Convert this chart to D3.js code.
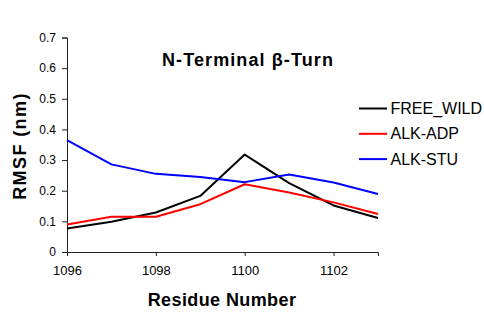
<!DOCTYPE html>
<html>
<head>
<meta charset="utf-8">
<script src="https://cdn.jsdelivr.net/npm/d3@7"></script>
<style>
  body { margin: 0; background: #fff; }
  text { font-family: "Liberation Sans", Arial, sans-serif; }
</style>
</head>
<body>
<div id="chart"></div>
<script>
const residues = [1096, 1097, 1098, 1099, 1100, 1101, 1102, 1103];
const seriesNames = ["FREE_WILD", "ALK-ADP", "ALK-STU"];
const seriesColors = ["#000000", "#ff0000", "#0000ff"];
const freeWild = [0.077, 0.099, 0.129, 0.183, 0.318, 0.225, 0.152, 0.111];
const alkAdp = [0.090, 0.115, 0.115, 0.156, 0.221, 0.194, 0.162, 0.124];
const alkStu = [0.365, 0.286, 0.255, 0.245, 0.228, 0.253, 0.227, 0.189];
const xTicks = [1096, 1098, 1100, 1102];
const yTicks = [0, 0.1, 0.2, 0.3, 0.4, 0.5, 0.6, 0.7];

const width = 484, height = 314;
const svg = d3.select("#chart").append("svg")
    .attr("width", width)
    .attr("height", height);

const x = d3.scaleLinear().domain([1096, 1103]).range([67, 378]);
const y = d3.scaleLinear().domain([0, 0.7]).range([252, 37.5]);

// axes
const xAxis = svg.append("g")
    .attr("transform", "translate(0," + y(0) + ")")
    .call(d3.axisBottom(x).tickValues(xTicks).tickFormat(d3.format("d")).tickSizeOuter(0).tickSize(4));
const yAxis = svg.append("g")
    .attr("transform", "translate(" + x(1096) + ",0)")
    .call(d3.axisLeft(y).tickValues(yTicks).tickFormat(d => d === 0 ? "0" : d3.format(".1f")(d)).tickSizeOuter(0).tickSize(5));

[xAxis, yAxis].forEach(a => {
    a.select(".domain").attr("stroke", "#222").attr("stroke-width", 1);
    a.selectAll(".tick line").attr("stroke", "#222");
    a.selectAll(".tick text")
        .style("font-family", "'Liberation Sans', Arial, sans-serif")
        .attr("fill", "#000");
});
xAxis.selectAll(".tick text").style("font-size", "13px").attr("dy", "0.71em").attr("y", 14);
yAxis.selectAll(".tick text").style("font-size", "12px").attr("x", -11);

// lines
const allSeries = [freeWild, alkAdp, alkStu];
const line = d3.line()
    .x((d, i) => x(residues[i]))
    .y(d => y(d));

allSeries.forEach((s, k) => {
    svg.append("path")
        .datum(s)
        .attr("fill", "none")
        .attr("stroke", seriesColors[k])
        .attr("stroke-width", 2)
        .attr("stroke-linejoin", "round")
        .attr("d", line);
});

// title
svg.append("text")
    .attr("x", 248).attr("y", 66)
    .attr("text-anchor", "middle")
    .style("font-size", "18px")
    .style("font-weight", "bold")
    .style("letter-spacing", "1.1px")
    .text("N-Terminal  β-Turn");

// axis titles
svg.append("text")
    .attr("x", 222).attr("y", 306)
    .attr("text-anchor", "middle")
    .style("font-size", "18px")
    .style("font-weight", "bold")
    .style("letter-spacing", "0.4px")
    .text("Residue Number");

svg.append("text")
    .attr("transform", "translate(26,146) rotate(-90)")
    .attr("text-anchor", "middle")
    .style("font-size", "18px")
    .style("font-weight", "bold")
    .style("letter-spacing", "1.4px")
    .text("RMSF (nm)");

// legend
const legend = svg.append("g");
seriesNames.forEach((name, k) => {
    const ly = 108.5 + k * 25.3;
    legend.append("line")
        .attr("x1", 359).attr("x2", 387)
        .attr("y1", ly).attr("y2", ly)
        .attr("stroke", seriesColors[k])
        .attr("stroke-width", 2);
    legend.append("text")
        .attr("x", 390.5).attr("y", ly + 5.5)
        .style("font-size", "16px")
        .text(name);
});
</script>
</body>
</html>
